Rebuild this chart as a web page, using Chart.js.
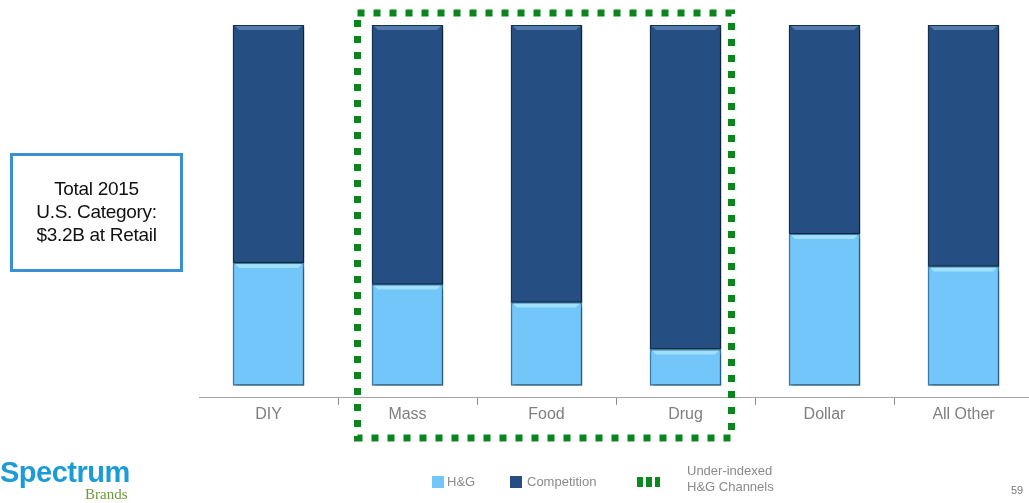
<!DOCTYPE html>
<html>
<head>
<meta charset="utf-8">
<script src="https://cdn.jsdelivr.net/npm/chart.js@4/dist/chart.umd.min.js"></script>
<style>
  html, body { margin:0; padding:0; background:#fff; width:1029px; height:503px; overflow:hidden; font-family:"Liberation Sans", Arial, sans-serif; }
  #wrap { position:absolute; left:0; top:0; width:1033px; height:503px; }
  .box { position:absolute; left:10px; top:153px; width:167px; height:113px; border:3px solid #3b8fd3; text-align:center; font-size:19px; line-height:23px; color:#111; box-sizing:content-box; }
  .box div { padding-top:21px; letter-spacing:-0.3px; }
  .leg { position:absolute; color:#8a8a8a; font-size:13px; }
  .sw { position:absolute; width:12px; height:12px; }
  .logo { position:absolute; left:0; top:456px; font-size:29px; font-weight:bold; color:#1b9bd8; letter-spacing:-0.5px; }
  .brands { position:absolute; left:85px; top:486px; font-family:"Liberation Serif", serif; font-size:15px; color:#6b9a3c; }
  .pg { position:absolute; left:1011px; top:484px; font-size:11px; color:#777; }
</style>
</head>
<body>
<div id="wrap"><canvas id="c"></canvas></div>
<div class="box"><div>Total 2015<br>U.S. Category:<br>$3.2B at Retail</div></div>
<div class="sw" style="left:432px;top:476px;background:#73c6f9;"></div>
<div class="leg" style="left:447px;top:474px;">H&amp;G</div>
<div class="sw" style="left:510px;top:476px;background:#254f82;"></div>
<div class="leg" style="left:527px;top:474px;">Competition</div>
<div class="sw" style="left:637px;top:477px;width:6px;height:10px;background:#0a8a1e;"></div>
<div class="sw" style="left:646px;top:477px;width:6px;height:10px;background:#0a8a1e;"></div>
<div class="sw" style="left:655px;top:477px;width:5px;height:10px;background:#0a8a1e;"></div>
<div class="leg" style="left:687px;top:463px;line-height:16px;">Under-indexed<br>H&amp;G Channels</div>
<div class="logo">Spectrum</div>
<div class="brands">Brands</div>
<div class="pg">59</div>
<script>
const categories = ['DIY', 'Mass', 'Food', 'Drug', 'Dollar', 'All Other'];
const hgShare = [34, 28, 23, 10, 42, 33];
const competitionShare = [66, 72, 77, 90, 58, 67];
const highlighted = ['Mass', 'Food', 'Drug'];

const shadowPlugin = {
  id: 'shadow',
  beforeDatasetsDraw(chart) {
    const ctx = chart.ctx;
    ctx.save();
    ctx.shadowColor = 'rgba(0,0,0,0.35)';
    ctx.shadowBlur = 4;
    ctx.shadowOffsetX = 2;
    ctx.shadowOffsetY = 3;
  },
  afterDatasetsDraw(chart) {
    const ctx = chart.ctx;
    ctx.restore();
    chart.data.datasets.forEach((ds, di) => {
      const meta = chart.getDatasetMeta(di);
      meta.data.forEach(bar => {
        const w = bar.width, l = bar.x - w / 2, t = bar.y;
        ctx.save();
        ctx.fillStyle = di === 0 ? 'rgba(180,235,250,0.7)' : 'rgba(120,160,205,0.55)';
        ctx.beginPath();
        ctx.moveTo(l + 2, t + 1);
        ctx.lineTo(l + w - 2, t + 1);
        ctx.lineTo(l + w - 6, t + 5);
        ctx.lineTo(l + 6, t + 5);
        ctx.closePath();
        ctx.fill();
        ctx.restore();
      });
    });
    const xs = chart.scales.x;
    const i0 = categories.indexOf(highlighted[0]);
    const i1 = categories.indexOf(highlighted[highlighted.length - 1]);
    const left = xs.getPixelForValue(i0) - 50;
    const right = xs.getPixelForValue(i1) + 46;
    const top = chart.chartArea.top - 12;
    const bottom = 438;
    ctx.save();
    ctx.strokeStyle = '#0a861c';
    ctx.lineWidth = 7;
    ctx.setLineDash([7, 9]);
    ctx.strokeRect(left, top, right - left, bottom - top);
    ctx.restore();
  }
};

new Chart(document.getElementById('c'), {
  type: 'bar',
  data: {
    labels: categories,
    datasets: [
      { label: 'H&G', data: hgShare, backgroundColor: '#73c6f9', borderColor: '#3d7fae', borderWidth: 1.5, borderSkipped: false },
      { label: 'Competition', data: competitionShare, backgroundColor: '#254f82', borderColor: '#15324f', borderWidth: 1.5, borderSkipped: false }
    ]
  },
  options: {
    responsive: true,
    maintainAspectRatio: false,
    animation: false,
    layout: { padding: { left: 199, right: 0, top: 25, bottom: 79 } },
    plugins: { legend: { display: false }, tooltip: { enabled: false } },
    datasets: { bar: { barThickness: 71 } },
    scales: {
      x: {
        stacked: true,
        border: { display: true, color: '#a6a6a6', width: 1 },
        grid: {
          offset: true,
          drawOnChartArea: false,
          tickLength: 7,
          color: (c) => c.index === 0 ? 'rgba(0,0,0,0)' : '#8c8c8c'
        },
        ticks: { color: '#7f7f7f', font: { family: 'Liberation Sans', size: 16 }, padding: 0 }
      },
      y: {
        stacked: true,
        display: false,
        min: -3.4,
        max: 100
      }
    }
  },
  plugins: [shadowPlugin]
});
</script>
</body>
</html>
